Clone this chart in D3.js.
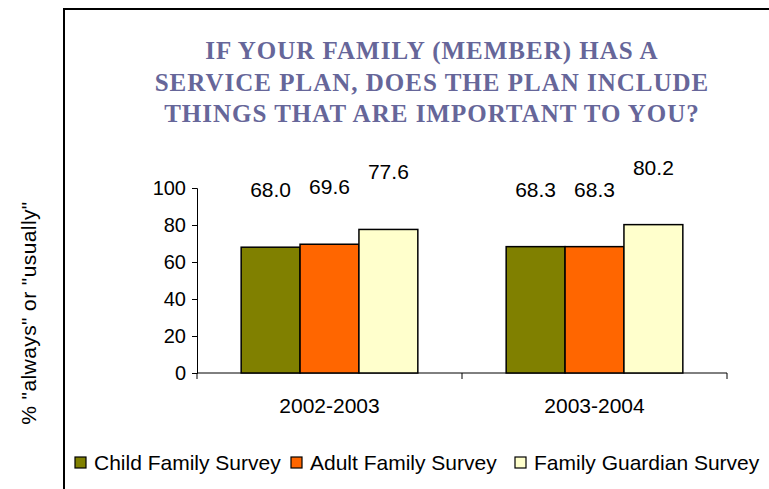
<!DOCTYPE html>
<html>
<head>
<meta charset="utf-8">
<script src="https://cdn.jsdelivr.net/npm/d3@7"></script>
<style>
  body { margin: 0; background: #fff; }
  text { font-family: "Liberation Sans", Arial, sans-serif; }
</style>
</head>
<body>
<script>
var width = 769, height = 489;

// data
var categories = ["2002-2003", "2003-2004"];
var seriesNames = ["Child Family Survey", "Adult Family Survey", "Family Guardian Survey"];
var seriesColors = ["#808000", "#FF6600", "#FFFFCC"];
var childVals = [68.0, 68.3];
var adultVals = [69.6, 68.3];
var guardianVals = [77.6, 80.2];
var yTicks = [0, 20, 40, 60, 80, 100];
var titleLines = ["IF YOUR FAMILY (MEMBER) HAS A", "SERVICE PLAN, DOES THE PLAN INCLUDE", "THINGS THAT ARE IMPORTANT TO YOU?"];

var seriesVals = [childVals, adultVals, guardianVals];

var svg = d3.select("body").append("svg")
    .attr("width", width)
    .attr("height", height);

// frame (top and left edges visible)
svg.append("path")
    .attr("d", "M64," + height + " V9 H" + width)
    .attr("fill", "none")
    .attr("stroke", "#000")
    .attr("stroke-width", 2);

// title
svg.append("g").selectAll("text").data(titleLines).enter().append("text")
    .attr("x", 432)
    .attr("y", function(d, i) { return 59 + i * 31.5; })
    .attr("text-anchor", "middle")
    .style("font-family", "'Liberation Serif', 'DejaVu Serif', serif")
    .style("font-weight", "bold")
    .style("font-size", "25px")
    .style("letter-spacing", "1px")
    .attr("fill", "#666699")
    .text(function(d) { return d; });

var plot = {left: 197, right: 727, top: 188, bottom: 373};

var x = d3.scaleBand().domain(categories).range([plot.left, plot.right]);
var xs = d3.scaleBand().domain(d3.range(seriesNames.length)).range([0, x.bandwidth()]).paddingOuter(0.75);
var y = d3.scaleLinear().domain([0, 100]).range([plot.bottom, plot.top]);

// y axis
var yAxis = svg.append("g")
    .attr("transform", "translate(" + plot.left + ",0)")
    .call(d3.axisLeft(y).tickValues(yTicks).tickSize(5).tickPadding(6));
yAxis.select(".domain").attr("stroke", "#000");
yAxis.selectAll("text").style("font-size", "20px").attr("fill", "#000");

// x axis
var xAxis = svg.append("g")
    .attr("transform", "translate(0," + plot.bottom + ")");
xAxis.append("line")
    .attr("x1", plot.left).attr("x2", plot.right)
    .attr("stroke", "#000");
xAxis.selectAll(".xtick").data(d3.range(categories.length + 1)).enter().append("line")
    .attr("x1", function(d) { return plot.left + d * x.step(); })
    .attr("x2", function(d) { return plot.left + d * x.step(); })
    .attr("y1", 0).attr("y2", 6)
    .attr("stroke", "#000");
xAxis.selectAll(".xlabel").data(categories).enter().append("text")
    .attr("x", function(d) { return x(d) + x.bandwidth() / 2; })
    .attr("y", 40)
    .attr("text-anchor", "middle")
    .style("font-size", "21px")
    .text(function(d) { return d; });

// bars
var groups = svg.selectAll(".group").data(categories).enter().append("g")
    .attr("transform", function(d) { return "translate(" + x(d) + ",0)"; });

groups.each(function(cat, ci) {
    var g = d3.select(this);
    seriesVals.forEach(function(vals, si) {
        g.append("rect")
            .attr("x", xs(si))
            .attr("y", y(vals[ci]))
            .attr("width", xs.bandwidth())
            .attr("height", y(0) - y(vals[ci]))
            .attr("fill", seriesColors[si])
            .attr("stroke", "#000")
            .attr("stroke-width", 1.5);
        g.append("text")
            .attr("x", xs(si) + xs.bandwidth() / 2)
            .attr("y", y(vals[ci]) - 50)
            .attr("text-anchor", "middle")
            .style("font-size", "21px")
            .text(vals[ci].toFixed(1));
    });
});

// y axis title
svg.append("text")
    .attr("transform", "translate(36,313) rotate(-90)")
    .attr("text-anchor", "middle")
    .style("font-size", "21px")
    .style("letter-spacing", "0.4px")
    .text('% "always" or "usually"');

// legend
var legendX = [75, 291, 515];
var legend = svg.selectAll(".legend").data(seriesNames).enter().append("g")
    .attr("transform", function(d, i) { return "translate(" + legendX[i] + ",457)"; });
legend.append("rect")
    .attr("width", 11).attr("height", 11)
    .attr("fill", function(d, i) { return seriesColors[i]; })
    .attr("stroke", "#000")
    .attr("stroke-width", 1.2);
legend.append("text")
    .attr("x", 19)
    .attr("y", 13)
    .style("font-size", "21px")
    .text(function(d) { return d; });
</script>
</body>
</html>
